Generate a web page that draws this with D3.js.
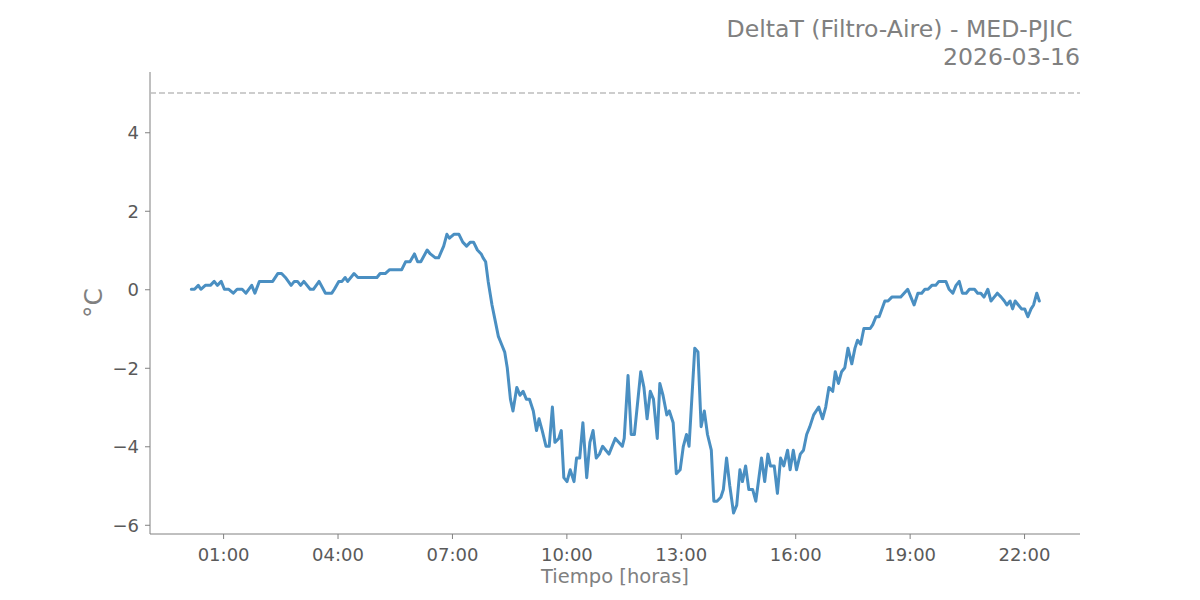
<!DOCTYPE html>
<html>
<head>
<meta charset="utf-8">
<script src="https://cdn.jsdelivr.net/npm/d3@7"></script>
<style>
  body { margin: 0; background: #fff; }
  text { font-family: "DejaVu Sans", sans-serif; }
</style>
</head>
<body>
<script>
// minutes since midnight
const minutes = [10, 15, 21, 25, 32, 40, 46, 51, 57, 62, 69, 76, 82, 90, 96, 105, 110, 117, 138, 146,
  152, 158, 167, 172, 177, 182, 187, 197, 202, 211, 221, 231, 235, 242, 247, 252, 256, 266, 272, 302,
  307, 315, 322, 341, 347, 354, 361, 366, 371, 381, 386, 394, 399, 407, 412, 416, 423, 431, 437, 443,
  449, 454, 460, 466, 469, 473, 477, 483, 488, 493, 498, 503, 507, 512, 516, 522, 527, 532, 537, 542,
  548, 553, 557, 562, 568, 573, 578, 582, 588, 592, 596, 601, 606, 612, 616, 621, 626, 632, 637, 642,
  647, 652, 657, 662, 667, 677, 688, 691, 697, 702, 707, 717, 722, 727, 732, 737, 743, 747, 752, 758,
  762, 768, 773, 779, 784, 789, 793, 802, 807, 812, 817, 822, 828, 832, 837, 843, 847, 852, 857, 863,
  868, 873, 877, 882, 887, 893, 898, 907, 912, 917, 921, 927, 932, 937, 942, 948, 952, 957, 962, 968,
  973, 978, 983, 989, 997, 1003, 1008, 1013, 1019, 1023, 1028, 1033, 1038, 1043, 1049, 1054, 1058, 1063, 1068, 1078,
  1082, 1087, 1092, 1101, 1106, 1112, 1126, 1137, 1142, 1147, 1153, 1159, 1164, 1169, 1175, 1181, 1186, 1197, 1202, 1208,
  1213, 1218, 1223, 1229, 1234, 1242, 1247, 1252, 1257, 1263, 1268, 1273, 1278, 1284, 1289, 1293, 1298, 1302, 1306, 1311,
  1316, 1321, 1326, 1331, 1335, 1340, 1344];

const deltaT = [0, 0, 0.1, 0, 0.1, 0.1, 0.2, 0.1, 0.2, 0, 0, -0.1, 0, 0, -0.1, 0.1, -0.1, 0.2, 0.2, 0.4,
  0.4, 0.3, 0.1, 0.2, 0.2, 0.1, 0.2, 0, 0, 0.2, -0.1, -0.1, 0, 0.2, 0.2, 0.3, 0.2, 0.4, 0.3, 0.3,
  0.4, 0.4, 0.5, 0.5, 0.7, 0.7, 0.9, 0.7, 0.7, 1.0, 0.9, 0.8, 0.8, 1.1, 1.4, 1.3, 1.4, 1.4, 1.2, 1.1,
  1.2, 1.2, 1.0, 0.9, 0.8, 0.7, 0.2, -0.4, -0.8, -1.2, -1.4, -1.6, -2.0, -2.8, -3.1, -2.5, -2.7, -2.6, -2.8, -2.8,
  -3.1, -3.6, -3.3, -3.6, -4.0, -4.0, -3.0, -3.9, -3.8, -3.6, -4.8, -4.9, -4.6, -4.9, -4.3, -4.3, -3.4, -4.8, -3.9, -3.6,
  -4.3, -4.2, -4.0, -4.1, -4.2, -3.8, -4.0, -3.8, -2.2, -3.7, -3.7, -2.1, -2.5, -3.3, -2.6, -2.8, -3.8, -2.4, -2.7, -3.2,
  -3.1, -3.4, -4.7, -4.6, -4.0, -3.7, -4.0, -1.5, -1.6, -3.5, -3.1, -3.7, -4.1, -5.4, -5.4, -5.3, -5.1, -4.3, -5.0, -5.7,
  -5.5, -4.6, -4.9, -4.5, -5.1, -5.1, -5.4, -4.3, -4.9, -4.2, -4.5, -4.5, -5.2, -4.3, -4.5, -4.1, -4.6, -4.1, -4.6, -4.2,
  -4.1, -3.7, -3.5, -3.2, -3.0, -3.3, -3.0, -2.5, -2.6, -2.1, -2.4, -2.1, -2.0, -1.5, -1.9, -1.5, -1.3, -1.4, -1.0, -1.0,
  -0.9, -0.7, -0.7, -0.3, -0.3, -0.2, -0.2, 0, -0.2, -0.4, -0.1, -0.1, 0, 0, 0.1, 0.1, 0.2, 0.2, 0, -0.1,
  0.1, 0.2, -0.1, -0.1, 0, 0, -0.1, -0.1, -0.2, 0, -0.3, -0.2, -0.1, -0.2, -0.3, -0.4, -0.3, -0.5, -0.3, -0.4,
  -0.5, -0.5, -0.7, -0.5, -0.4, -0.1, -0.3];

const xTicks = [60, 240, 420, 600, 780, 960, 1140, 1320];
const yTicks = [-6, -4, -2, 0, 2, 4];
const limit = 5;

const titleLines = ['DeltaT (Filtro-Aire) - MED-PJIC ', '2026-03-16'];

const width = 1200, height = 600;
const margin = {left: 150, right: 120, top: 72, bottom: 66};

const svg = d3.select('body').append('svg')
  .attr('width', width)
  .attr('height', height);

const x = d3.scaleLinear()
  .domain([-55, 1408])
  .range([margin.left, width - margin.right]);

const y = d3.scaleLinear()
  .domain([-6.235, 5.535])
  .range([height - margin.bottom, margin.top]);

const fmtTime = m => d3.format('02d')(Math.floor(m / 60)) + ':' + d3.format('02d')(m % 60);

// axes
const xAxis = svg.append('g')
  .attr('transform', `translate(0,${height - margin.bottom})`)
  .call(d3.axisBottom(x).tickValues(xTicks).tickFormat(fmtTime).tickSize(5).tickPadding(6));

const yAxis = svg.append('g')
  .attr('transform', `translate(${margin.left},0)`)
  .call(d3.axisLeft(y).tickValues(yTicks).tickFormat(d3.format('d')).tickSize(5).tickPadding(6));

[xAxis, yAxis].forEach(g => {
  g.select('.domain').attr('stroke', '#808080').attr('stroke-width', 1);
  g.selectAll('.tick line').attr('stroke', '#808080');
  g.selectAll('.tick text')
    .attr('fill', '#5a5a5a')
    .style('font-size', '18px');
});
xAxis.selectAll('.tick text').attr('dy', '0.9em');
yAxis.selectAll('.tick text').attr('dy', '0.35em');
// no end caps on the spines
xAxis.select('.domain').attr('d', `M${margin.left},0H${width - margin.right}`);
yAxis.select('.domain').attr('d', `M0,${margin.top}V${height - margin.bottom}`);

// threshold
svg.append('line')
  .attr('x1', margin.left)
  .attr('x2', width - margin.right)
  .attr('y1', y(limit))
  .attr('y2', y(limit))
  .attr('stroke', '#bdbdbd')
  .attr('stroke-width', 1.5)
  .attr('stroke-dasharray', '6,3');

// series
const data = minutes.map((m, i) => ({m: m, v: deltaT[i]}));

const line = d3.line()
  .x(d => x(d.m))
  .y(d => y(d.v));

svg.append('path')
  .datum(data)
  .attr('d', line)
  .attr('fill', 'none')
  .attr('stroke', '#4a8fc2')
  .attr('stroke-width', 3)
  .attr('stroke-linejoin', 'round')
  .attr('stroke-linecap', 'round');

// labels
svg.append('text')
  .attr('x', (margin.left + width - margin.right) / 2)
  .attr('y', 583)
  .attr('text-anchor', 'middle')
  .attr('fill', '#808080')
  .style('font-size', '19.5px')
  .text('Tiempo [horas]');

svg.append('text')
  .attr('transform', `translate(102,${(margin.top + height - margin.bottom) / 2}) rotate(-90)`)
  .attr('text-anchor', 'middle')
  .attr('fill', '#808080')
  .style('font-size', '25px')
  .text('°C');

svg.append('text')
  .attr('text-anchor', 'end')
  .attr('fill', '#808080')
  .style('font-size', '23.6px')
  .selectAll('tspan')
  .data(titleLines).enter()
  .append('tspan')
  .attr('x', width - margin.right)
  .attr('y', (d, i) => 36.5 + i * 28)
  .attr('xml:space', 'preserve')
  .style('white-space', 'pre')
  .text(d => d);
</script>
</body>
</html>
